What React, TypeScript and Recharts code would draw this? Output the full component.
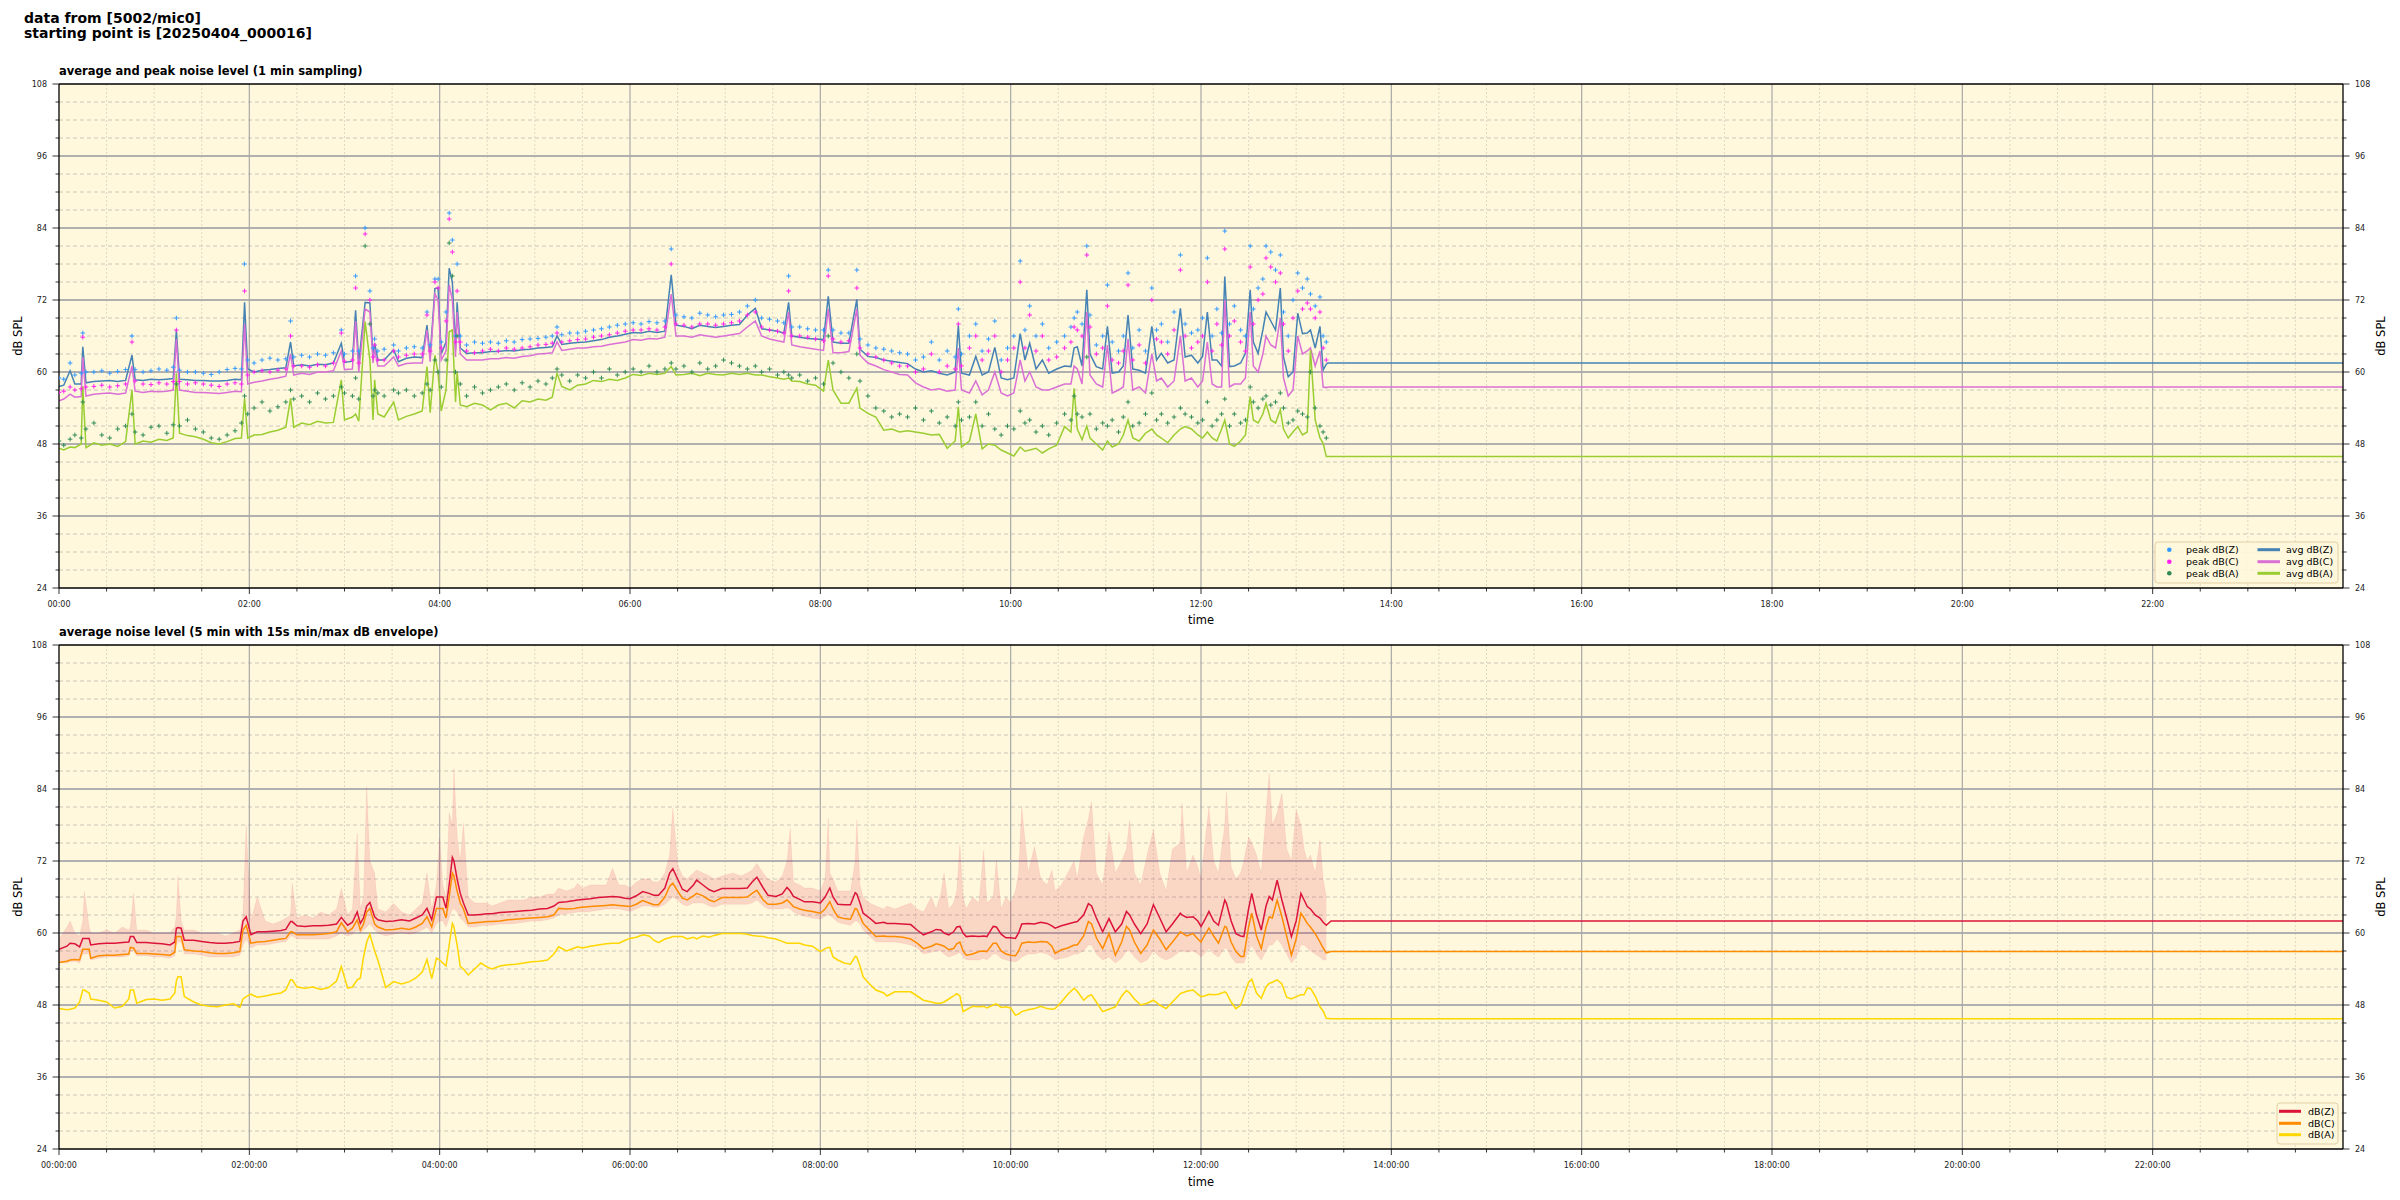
import React from 'react';
import { ComposedChart, Line, Scatter, Area, XAxis, YAxis, CartesianGrid } from 'recharts';

const FONT = '"DejaVu Sans", Verdana, sans-serif';

// ---------- top panel: 1-min sampling (time in minutes since 00:00) ----------
const topTime = [
  0,3,7,10,14,15,17,22,27,32,
  37,42,46,48,53,58,63,68,72,74,
  76,81,86,91,96,101,106,111,115,117,
  119,123,128,133,138,143,146,148,153,158,
  163,168,173,178,180,185,187,189,193,196,
  198,199,201,205,211,214,219,224,229,232,
  234,237,239,241,244,246,248,250,251,253,
  257,262,267,272,277,282,287,292,297,302,
  307,311,314,317,322,327,332,337,342,347,
  352,357,362,367,372,377,382,386,389,394,
  399,404,409,414,419,424,429,434,439,443,
  448,453,457,460,462,467,472,477,482,485,
  488,493,498,503,505,510,515,520,525,530,
  535,540,545,550,555,560,565,567,569,574,
  578,582,586,590,594,598,602,606,609,612,
  616,620,624,629,634,638,640,642,645,648,
  650,654,658,661,664,668,671,674,677,681,
  685,689,692,695,699,703,707,710,714,718,
  721,724,727,730,733,735,738,741,745,748,
  751,753,756,759,761,764,767,770,772,775,
  778,781,784,787,789,792,795,797,799,800,
  1440,
];
const avgZ = [
  57.6,57.8,60.2,58.0,58.0,64.2,58.2,58.4,58.5,58.6,
  58.4,58.6,62.8,58.7,58.6,58.8,58.7,58.8,58.9,67.0,
  58.8,58.7,58.6,58.6,58.5,58.5,58.6,58.8,58.7,71.6,
  60.5,60.0,60.3,60.4,60.6,60.7,65.0,61.0,61.2,61.0,
  61.3,61.2,61.5,64.8,61.6,61.8,70.3,61.5,71.6,71.5,
  62.5,64.8,62.0,62.0,63.7,61.7,62.3,62.5,62.4,67.8,
  62.6,73.9,74.0,63.0,65.0,77.3,75.0,63.7,71.6,64.0,
  63.1,63.2,63.2,63.4,63.4,63.6,63.5,63.7,63.8,64.0,
  64.1,64.2,66.0,64.6,64.8,64.9,65.0,65.2,65.4,65.8,
  66.0,66.3,66.6,66.5,66.8,66.6,66.8,76.2,67.8,67.6,
  67.2,67.8,67.6,67.4,67.6,67.8,67.9,69.5,70.6,67.2,
  67.0,66.8,66.5,71.6,66.0,65.8,65.6,65.5,65.4,72.6,
  65.0,64.8,64.8,72.1,63.8,62.6,62.4,62.0,61.8,61.6,
  61.4,60.5,60.0,60.2,59.8,59.5,60.0,67.8,59.8,59.5,
  62.6,59.5,60.0,64.1,59.0,58.7,59.0,66.4,62.0,64.8,
  60.5,62.0,59.8,60.5,61.0,60.9,64.0,64.2,61.0,73.7,
  63.0,60.9,60.5,67.6,59.8,60.0,61.0,69.5,60.5,60.3,
  59.8,67.6,62.0,63.1,61.5,62.0,70.6,62.5,62.8,61.5,
  62.6,70.0,62.0,62.0,61.0,75.9,60.9,61.0,61.5,63.1,
  73.7,65.0,63.1,67.0,70.0,68.5,67.0,74.0,62.5,59.2,
  60.0,69.8,66.4,66.5,67.0,64.0,67.6,60.3,61.3,61.5,
  61.5,
];
const avgC = [
  55.2,55.5,56.3,55.8,55.9,62.5,56.0,56.3,56.4,56.5,
  56.3,56.5,61.0,56.8,56.6,56.8,56.7,56.8,57.0,65.5,
  57.0,56.8,56.6,56.6,56.5,56.4,56.6,56.8,56.7,68.0,
  58.0,58.3,58.5,58.8,59.0,59.3,63.0,59.5,59.8,59.6,
  60.0,60.0,60.2,63.5,60.4,60.5,68.5,60.0,70.5,70.0,
  61.5,63.8,61.0,61.0,62.5,61.0,61.4,61.5,61.5,67.0,
  61.7,73.0,72.0,62.0,63.5,74.5,72.0,62.5,70.0,63.0,
  62.0,62.0,62.0,62.2,62.2,62.4,62.3,62.6,62.7,63.0,
  63.1,63.2,65.0,63.6,63.8,64.0,64.0,64.2,64.3,64.6,
  64.8,65.0,65.4,65.3,65.6,65.5,65.8,73.0,66.0,66.0,
  65.8,66.2,66.0,65.8,66.0,66.2,66.4,67.5,68.5,66.0,
  65.5,65.2,65.0,70.0,64.5,64.2,64.0,63.8,63.6,70.5,
  63.2,63.2,63.4,70.5,62.8,61.5,61.0,60.4,60.0,59.6,
  59.5,58.2,57.5,57.0,57.2,56.8,57.0,64.0,57.0,56.5,
  58.5,56.2,57.0,60.0,56.5,56.0,56.5,62.0,58.5,60.0,
  57.5,57.0,57.0,57.5,58.0,58.0,61.0,60.5,58.0,70.0,
  59.5,58.0,57.5,64.5,56.5,57.0,57.5,65.5,57.0,57.5,
  56.5,63.0,58.5,59.0,57.5,58.5,66.0,58.5,59.0,57.5,
  58.5,65.0,58.0,57.5,57.5,72.0,57.5,58.0,58.0,59.0,
  70.0,61.0,60.0,63.0,66.0,64.5,64.0,69.0,59.0,56.0,
  57.0,66.0,63.0,63.5,64.0,61.0,63.5,57.5,57.4,57.5,
  57.5,
];
const avgA = [
  47.3,47.0,47.5,47.4,48.0,57.6,47.4,48.2,47.8,48.0,
  47.6,48.4,57.0,48.0,48.5,48.3,48.8,48.6,49.0,59.8,
  49.8,49.4,49.2,48.8,48.2,48.0,48.4,48.9,49.0,55.6,
  49.0,49.5,49.6,50.0,50.3,50.8,55.6,50.8,51.5,51.2,
  51.8,51.5,51.6,58.7,52.0,52.5,53.0,51.8,68.4,62.0,
  52.0,58.7,53.0,52.5,55.0,52.0,52.6,53.0,53.5,60.9,
  53.2,62.8,59.8,53.5,57.0,66.7,67.0,55.0,60.0,54.5,
  54.2,54.8,54.5,53.7,54.5,54.8,54.0,55.2,55.0,55.5,
  55.3,55.8,59.8,57.6,57.0,57.8,58.0,58.6,58.4,58.8,
  58.6,59.0,59.6,59.4,59.8,59.6,59.8,60.9,59.5,59.6,
  59.8,59.4,59.8,59.6,59.5,59.8,59.6,59.8,59.5,59.5,
  59.2,59.0,58.8,59.0,58.5,58.4,58.0,57.8,56.8,62.0,
  57.0,54.8,54.8,57.3,54.0,53.1,52.5,50.3,50.5,50.0,
  50.2,50.0,49.8,49.5,49.6,47.3,48.5,54.2,47.5,48.5,
  53.0,47.2,48.0,47.8,47.0,46.5,46.0,47.5,46.8,47.0,
  47.3,46.5,47.2,47.8,50.9,50.0,57.3,50.5,48.7,51.0,
  49.0,48.0,47.0,48.5,47.5,48.0,49.5,52.0,49.0,48.5,
  49.8,50.5,49.5,49.0,48.2,49.5,50.5,50.9,50.5,49.5,
  49.0,50.0,49.0,48.5,50.5,52.0,48.0,47.6,48.5,49.5,
  55.9,52.0,51.5,53.0,54.8,52.0,51.5,53.7,50.5,49.0,
  50.0,50.9,49.5,50.0,63.7,52.0,49.0,48.1,45.9,45.9,
  45.9,
];
const peakZ = [
  59.0,58.8,61.5,59.5,59.8,66.5,60.0,60.0,60.2,59.8,
  60.1,60.4,66.0,60.4,60.0,60.2,60.5,60.3,60.8,69.0,
  60.3,60.0,60.0,59.8,59.6,60.0,60.4,60.6,60.5,78.0,
  62.0,61.5,62.0,62.3,62.0,62.2,68.5,62.5,62.8,62.5,
  63.0,62.8,63.2,67.0,63.0,63.5,76.0,63.5,84.0,73.5,
  64.0,65.5,63.5,63.8,64.5,63.5,64.0,64.2,64.0,70.0,
  64.5,75.5,75.5,65.0,70.0,86.5,82.0,66.0,78.0,66.0,
  64.5,65.0,64.8,65.0,64.8,65.2,65.0,65.4,65.5,65.6,
  65.8,66.0,67.5,66.2,66.5,66.5,66.8,67.0,67.2,67.5,
  67.8,68.0,68.2,68.0,68.4,68.2,68.5,80.5,69.5,69.2,
  69.0,69.8,69.5,69.2,69.5,69.6,70.0,71.0,72.0,69.0,
  68.8,68.5,68.2,76.0,67.5,67.5,67.2,67.0,67.0,77.0,
  67.0,66.5,66.5,77.0,65.5,64.5,64.0,63.8,63.5,63.2,
  63.0,62.0,62.5,65.0,62.0,63.5,62.5,70.5,63.0,66.0,
  68.0,63.5,65.5,68.5,62.0,64.0,66.0,78.5,67.0,71.0,
  66.0,68.0,64.0,65.0,66.0,67.5,69.0,70.0,68.0,81.0,
  69.5,64.5,66.0,74.5,65.0,63.5,66.0,76.5,64.0,67.0,
  63.5,74.0,67.0,68.0,65.0,70.0,79.5,68.0,66.5,67.0,
  69.0,79.0,66.0,70.5,66.5,83.5,68.0,71.0,67.0,66.0,
  81.0,70.5,74.0,75.5,81.0,80.0,77.0,79.5,70.0,66.0,
  72.0,76.5,74.0,75.5,73.0,71.0,72.5,66.0,65.0,null,
  null,
];
const peakC = [
  56.6,56.8,57.5,57.0,57.2,65.8,57.5,57.6,57.8,57.5,
  57.7,58.0,65.0,58.5,58.0,57.9,58.2,58.0,58.4,67.0,
  58.4,58.0,58.2,58.0,57.8,57.6,58.0,58.2,58.0,73.5,
  59.5,60.0,60.2,60.0,60.3,60.5,66.0,61.0,61.0,60.8,
  61.2,61.0,61.5,66.5,61.8,62.0,74.0,61.5,83.0,72.0,
  62.5,64.5,62.0,62.0,63.5,62.5,62.8,63.0,63.0,69.5,
  63.5,75.0,74.0,64.0,68.5,85.5,80.0,65.0,73.5,65.0,
  63.5,63.2,63.5,63.8,63.5,64.0,63.8,64.0,64.2,64.5,
  64.6,64.8,66.5,65.0,65.2,65.4,65.5,65.8,66.0,66.2,
  66.5,66.8,67.0,67.0,67.2,67.0,67.5,78.0,68.0,67.8,
  67.5,68.0,68.0,67.8,68.0,68.2,68.5,69.5,70.0,67.5,
  67.0,66.8,66.5,73.5,66.0,66.0,65.8,65.5,65.2,76.0,
  65.5,65.0,65.2,74.0,64.0,63.0,62.5,62.0,61.5,61.0,
  61.0,60.0,60.5,63.0,60.0,61.0,60.5,68.0,61.0,64.0,
  66.0,62.0,63.5,66.0,60.0,62.0,64.0,75.0,64.0,69.5,
  63.5,66.0,62.0,62.5,64.0,65.0,67.5,67.0,66.0,79.5,
  67.5,63.0,64.0,71.0,62.0,61.5,63.5,74.5,62.0,64.5,
  61.5,72.0,65.5,65.0,63.0,67.0,77.0,66.0,64.0,65.0,
  66.0,75.0,63.5,68.0,64.5,80.5,66.0,68.5,65.0,63.5,
  77.5,68.0,72.0,73.0,79.0,77.5,75.0,76.5,68.0,63.5,
  69.0,73.5,70.5,71.5,70.5,69.0,70.0,64.0,62.0,null,
  null,
];
const peakA = [
  48.5,47.8,48.8,49.5,49.0,55.0,50.5,51.5,49.5,49.0,
  50.5,51.0,53.0,50.0,49.5,50.8,51.0,49.8,51.2,58.0,
  51.0,52.0,50.5,50.0,49.0,48.8,49.5,50.2,51.5,56.0,
  53.0,54.0,55.0,53.5,54.2,55.0,57.0,55.5,56.0,55.0,
  56.5,55.5,56.0,57.5,56.5,56.0,59.0,55.5,81.0,68.0,
  56.0,57.0,56.5,56.0,57.0,56.5,57.0,56.0,56.5,58.0,
  57.0,62.0,60.0,57.5,62.0,81.5,76.0,60.0,66.0,58.0,
  56.0,57.5,56.5,57.0,57.5,58.0,57.0,58.2,57.5,58.5,
  58.0,59.0,60.5,59.5,58.5,59.5,59.0,60.0,59.0,60.5,
  59.5,60.0,60.5,60.0,61.0,60.0,60.5,61.5,60.5,61.0,
  60.0,61.5,60.5,61.0,62.0,61.5,61.0,60.5,61.0,60.0,
  60.5,59.5,60.0,59.5,59.0,59.5,58.5,59.0,58.0,66.0,
  61.5,60.0,59.0,63.0,58.5,56.0,54.0,53.5,52.5,53.0,
  52.5,54.0,52.0,53.5,51.5,52.5,51.0,55.0,52.0,52.5,
  55.0,51.0,53.0,50.5,49.5,51.0,50.5,53.5,51.5,52.0,
  50.0,51.0,49.5,51.5,53.0,52.0,56.0,53.0,52.5,62.5,
  53.0,50.5,51.5,51.0,52.0,50.0,52.5,55.0,51.0,51.5,
  53.0,56.5,52.0,53.0,51.5,52.5,54.0,53.0,52.5,51.5,
  52.0,55.0,51.0,52.0,53.0,55.5,51.0,53.0,51.5,52.0,
  57.5,55.0,54.0,55.5,56.0,54.5,55.0,56.5,54.0,51.5,
  52.0,53.5,53.0,52.5,60.0,54.0,51.0,50.0,49.0,null,
  null,
];

// ---------- bottom panel: 5-min average with 15s min/max envelope ----------
const botTime = [
  0,5,7,10,13,15,16,19,20,25,
  30,35,40,44,45,47,49,55,60,65,
  70,73,74,75,77,79,85,90,95,100,
  105,110,114,116,118,121,125,130,135,140,
  143,146,147,150,155,160,165,170,175,178,
  182,185,188,190,192,194,196,199,201,206,
  211,216,221,225,229,232,235,238,240,242,
  244,246,248,249,251,253,255,258,262,266,
  270,273,278,283,288,293,298,303,308,312,
  315,320,325,327,330,335,340,345,349,353,
  357,360,364,368,372,375,378,382,385,387,
  390,393,396,400,402,406,410,413,418,425,
  430,434,437,440,444,447,452,456,459,461,
  463,467,470,475,480,483,485,486,488,491,
  495,499,502,503,505,507,511,515,520,522,
  527,532,537,541,545,550,553,556,558,561,
  564,566,568,570,572,576,580,583,585,589,
  591,594,597,600,603,605,607,611,615,619,
  623,626,628,632,636,640,642,646,649,651,
  654,658,662,666,670,673,675,678,682,686,
  690,694,698,702,707,708,711,715,718,720,
  722,725,728,731,735,736,739,742,745,747,
  750,752,755,758,761,763,765,768,771,774,
  777,780,783,785,787,789,792,795,797,799,
  802,1440,
];
const lvlZ = [
  57.3,57.8,58.3,58.2,57.7,59.1,59.1,59.1,58.0,58.2,
  58.3,58.3,58.4,58.5,59.4,59.4,58.4,58.4,58.3,58.2,
  58.0,58.5,60.8,60.9,60.8,58.8,58.8,58.6,58.4,58.3,
  58.3,58.4,58.6,62.0,62.7,59.7,60.2,60.2,60.3,60.4,
  60.6,61.9,61.9,61.2,61.1,61.2,61.2,61.3,61.5,62.6,
  61.3,61.8,63.5,61.6,62.5,64.5,65.1,62.7,62.2,61.9,
  62.0,62.2,62.0,62.5,63.0,64.1,62.2,66.0,66.0,66.0,
  64.1,68.0,72.6,72.0,69.0,66.6,65.0,63.0,63.0,63.1,
  63.2,63.2,63.4,63.5,63.6,63.7,63.8,64.0,64.1,64.5,
  65.1,65.2,65.4,65.5,65.6,65.7,65.9,66.0,66.1,66.0,
  65.8,65.7,66.2,66.9,66.6,66.3,66.3,67.5,70.0,70.7,
  69.0,67.3,66.9,68.0,68.8,68.0,67.2,66.9,67.4,67.4,
  67.4,67.5,68.5,69.3,67.5,66.3,66.1,66.5,67.6,67.0,
  66.1,65.6,65.2,65.2,65.0,66.0,67.0,67.5,66.0,64.8,
  64.7,64.7,66.7,66.5,65.0,63.3,62.5,61.6,61.8,61.6,
  61.6,61.5,61.4,60.5,59.7,60.2,60.6,60.5,60.0,59.7,
  60.2,61.0,61.1,60.0,59.4,59.5,59.4,59.5,59.4,61.1,
  61.0,59.8,59.2,59.2,59.1,60.0,61.5,61.6,61.5,61.8,
  61.6,61.2,60.8,61.2,61.5,61.8,61.9,63.0,64.9,64.5,
  62.5,60.2,62.4,60.2,61.5,63.6,63.0,61.5,59.9,61.5,
  64.7,62.5,60.2,61.5,63.3,63.0,62.6,62.7,62.0,61.1,
  62.0,63.6,62.0,61.3,65.5,65.0,62.0,59.9,59.5,59.4,
  64.0,66.6,63.0,60.5,64.5,66.1,65.5,68.8,65.5,62.5,
  59.4,62.0,66.6,65.5,64.4,64.0,63.0,62.5,61.8,61.3,
  62.0,62.0,
];
const lvlC = [
  55.1,55.3,55.5,55.6,55.5,57.3,57.3,57.3,55.8,56.2,
  56.3,56.3,56.4,56.5,57.6,57.5,56.6,56.6,56.5,56.4,
  56.3,56.8,59.4,59.4,59.4,57.2,57.0,56.9,56.7,56.6,
  56.6,56.7,56.9,60.5,61.3,58.3,58.5,58.6,58.8,59.0,
  59.1,60.2,60.2,59.7,59.7,59.7,59.8,59.9,60.2,61.7,
  60.2,60.8,62.2,60.5,61.5,63.5,64.1,61.5,61.0,60.5,
  60.6,60.8,60.6,61.0,61.6,62.7,61.0,64.1,64.1,64.1,
  62.5,66.0,70.0,69.5,67.0,65.0,64.0,61.6,61.7,61.8,
  61.9,61.9,62.0,62.2,62.3,62.4,62.5,62.6,62.7,63.0,
  64.1,64.0,64.1,64.2,64.3,64.4,64.5,64.6,64.7,64.6,
  64.5,64.4,64.8,65.4,65.0,64.7,64.7,66.0,67.8,68.3,
  67.0,65.8,65.5,66.2,66.6,66.2,65.5,65.2,65.9,65.9,
  65.9,66.0,66.6,67.1,65.5,64.8,64.8,65.0,65.5,65.0,
  64.4,64.0,63.8,63.6,63.3,64.0,64.8,65.2,64.0,62.7,
  62.4,62.3,64.1,64.0,62.8,61.6,60.5,59.4,59.5,59.4,
  59.4,59.3,59.0,58.3,57.4,57.8,58.2,58.0,57.8,57.2,
  57.4,58.2,58.5,57.0,56.3,56.5,56.9,57.0,56.9,58.3,
  58.3,57.0,56.5,56.3,56.2,57.0,58.3,58.5,58.4,58.6,
  58.5,57.8,56.6,57.2,57.5,58.0,58.0,59.5,61.9,61.5,
  59.2,57.4,59.9,56.3,58.5,61.1,60.5,58.5,56.6,58.0,
  60.5,59.0,57.2,58.5,60.2,60.0,59.5,59.9,59.0,58.5,
  59.5,60.8,59.5,58.3,61.1,61.0,58.5,56.9,56.1,56.1,
  61.0,63.3,59.5,57.4,61.0,62.7,62.5,65.5,62.7,59.5,
  56.3,59.0,63.3,62.5,61.6,61.0,59.9,58.5,57.5,56.7,
  56.9,56.9,
];
const lvlA = [
  47.4,47.2,47.3,47.5,48.5,50.5,50.5,50.0,49.0,48.8,
  48.5,47.5,47.8,49.0,50.5,50.5,48.3,48.9,49.0,48.8,
  49.0,50.0,52.0,52.7,52.7,49.4,48.5,48.0,47.8,47.7,
  48.0,48.2,47.6,49.0,49.4,49.8,49.3,49.5,49.8,50.0,
  50.5,52.2,52.2,51.0,50.8,51.0,50.6,50.9,52.0,54.4,
  50.8,51.0,52.2,52.5,56.0,58.5,59.8,57.0,55.5,50.9,
  51.9,51.5,51.9,52.5,53.5,55.6,52.4,55.8,55.5,55.0,
  54.5,58.0,61.6,61.0,58.0,54.4,54.0,53.0,54.0,55.0,
  54.3,54.0,54.5,54.7,54.8,55.0,55.2,55.3,55.5,56.5,
  57.7,57.0,57.5,57.7,57.5,57.8,58.0,58.2,58.3,58.3,
  58.8,59.1,59.3,59.7,59.5,58.8,58.4,59.0,59.2,59.4,
  59.4,59.4,59.0,59.3,59.0,59.5,59.3,59.6,59.9,59.9,
  59.9,59.8,59.6,59.5,59.4,59.2,59.0,58.6,58.3,58.3,
  58.3,58.3,58.0,57.8,56.9,57.4,57.6,57.6,56.0,55.5,
  55.0,54.8,56.1,56.0,54.5,52.7,51.5,50.5,50.0,49.5,
  50.2,50.2,50.2,49.5,48.8,48.5,48.3,48.3,48.5,49.0,
  49.5,49.9,49.5,46.9,47.2,47.8,47.7,47.8,47.5,48.0,
  48.2,47.6,47.7,47.5,46.3,46.5,46.9,47.2,47.4,47.8,
  47.4,47.3,47.4,48.5,49.8,50.8,50.3,48.8,49.5,49.7,
  48.5,46.9,47.3,47.7,49.5,50.4,50.0,49.0,48.0,48.3,
  48.8,48.0,47.4,48.5,49.9,50.0,50.3,50.5,49.8,49.4,
  49.5,49.8,49.7,49.8,50.2,50.0,48.5,47.4,48.0,49.5,
  51.8,52.3,50.0,49.1,51.0,51.6,51.8,52.2,51.5,49.3,
  49.0,49.4,49.7,49.7,50.8,50.8,49.5,47.7,47.0,45.8,
  45.7,45.7,
];
const envLow = [
  55.0,55.0,55.2,55.3,55.0,56.5,56.5,56.5,55.5,55.8,
  56.0,56.0,56.0,56.2,57.0,57.0,56.2,56.2,56.0,56.0,
  55.8,56.2,58.0,58.5,58.5,56.5,56.5,56.3,56.0,56.0,
  56.0,56.0,56.3,58.0,59.0,57.5,58.0,58.0,58.2,58.5,
  58.5,59.5,59.5,59.0,59.0,59.0,59.0,59.0,59.5,60.0,
  59.5,59.8,60.5,60.0,60.5,61.0,61.5,60.5,60.0,59.5,
  59.8,60.0,59.8,60.0,60.5,61.0,60.0,61.5,62.0,62.0,
  61.0,62.5,64.0,64.0,63.5,62.5,62.0,61.0,61.0,61.2,
  61.3,61.3,61.5,61.5,61.6,61.8,62.0,62.0,62.2,62.5,
  63.0,63.2,63.4,63.5,63.5,63.6,63.8,64.0,64.0,64.0,
  63.8,63.6,64.0,64.5,64.5,64.3,64.3,64.8,65.5,66.0,
  65.5,64.8,64.5,65.0,65.0,65.0,64.5,64.3,64.8,64.8,
  64.8,64.8,65.0,65.5,64.5,64.0,64.0,64.0,64.2,64.0,
  63.5,63.0,62.8,62.5,62.3,62.8,63.0,63.0,62.5,61.8,
  61.5,61.3,62.0,62.0,61.5,60.5,59.5,58.5,58.5,58.5,
  58.5,58.3,58.0,57.5,56.5,56.8,57.0,57.0,56.5,56.0,
  56.3,56.5,56.8,56.0,55.5,55.5,55.5,55.8,55.5,56.5,
  56.5,55.8,55.5,55.3,55.2,55.5,56.0,56.5,56.5,56.8,
  56.5,56.0,55.5,55.8,56.0,56.5,56.5,57.0,58.0,58.0,
  56.5,55.5,56.0,55.0,55.8,57.0,57.0,56.0,55.0,55.5,
  57.0,56.0,55.5,56.0,57.0,57.0,56.8,57.0,56.5,56.0,
  56.5,57.5,56.5,56.0,57.5,57.5,56.0,55.0,55.0,55.0,
  57.0,58.0,56.5,55.5,57.0,58.0,58.0,59.0,58.0,56.5,
  55.0,56.0,58.0,58.0,57.5,57.0,56.5,56.0,55.5,55.5,
  null,null,
];
const envHigh = [
  59.0,61.0,62.0,60.0,59.5,62.0,66.9,61.0,60.0,60.0,
  60.5,60.0,61.0,60.5,61.0,66.6,60.5,60.5,60.0,60.0,
  60.0,61.0,63.0,69.5,62.0,60.5,60.5,60.0,60.0,60.0,
  59.5,60.0,60.5,63.0,78.0,62.0,66.0,62.0,61.5,62.0,
  62.5,63.0,68.3,62.5,63.0,62.5,63.5,63.0,64.0,67.4,
  63.0,64.0,76.6,64.0,66.0,84.4,72.0,70.0,64.0,63.5,
  64.9,63.5,63.0,64.0,65.0,70.0,64.0,68.0,75.8,68.0,
  66.0,80.0,78.0,87.4,76.0,72.0,78.3,66.0,65.0,65.0,
  65.0,64.5,65.0,65.5,65.5,65.5,66.0,66.0,66.5,66.5,
  67.5,67.0,67.5,68.3,67.5,68.0,68.0,68.0,70.8,68.0,
  68.0,67.5,68.5,69.0,69.0,68.5,68.5,70.0,73.0,80.8,
  71.5,69.5,69.0,70.0,70.5,70.0,69.5,69.0,69.5,70.0,
  69.5,70.0,70.5,71.6,70.0,69.0,68.5,69.5,72.0,77.4,
  68.5,68.0,67.5,67.5,67.0,69.0,79.1,70.0,69.0,67.0,
  67.0,67.0,72.0,78.8,68.0,66.0,65.0,64.5,64.0,64.5,
  64.0,64.5,65.0,64.0,63.5,66.0,64.0,66.5,70.0,64.0,
  65.0,67.0,74.7,66.0,64.0,66.0,65.0,73.8,65.0,66.0,
  72.2,64.0,66.0,65.0,67.0,70.0,81.0,70.0,74.4,69.0,
  68.0,70.5,67.0,68.0,70.0,72.0,69.0,76.0,79.0,81.9,
  70.0,68.0,76.9,70.0,72.0,74.0,78.8,70.0,68.0,73.0,
  77.2,70.0,67.0,74.0,75.0,81.6,70.0,73.0,71.0,69.0,
  74.0,81.0,72.0,70.0,78.0,83.6,71.0,69.0,70.0,72.0,
  76.0,75.0,73.0,70.0,80.0,86.6,78.0,80.0,83.3,74.0,
  72.0,80.5,78.0,74.0,72.0,73.0,70.0,75.5,69.0,66.0,
  null,null,
];

// ---------- axes ----------
const xTicks = Array.from({ length: 48 }, (_, i) => i * 30); // 00:00 .. 23:30
const xMinor = xTicks.filter((t) => t > 0 && t % 120 !== 0);
const xMajor = xTicks.filter((t) => t > 0 && t % 120 === 0);
const yTicks = Array.from({ length: 29 }, (_, i) => 24 + i * 3); // 24 .. 108
const yMinor = yTicks.filter((v) => v > 24 && v < 108 && v % 12 !== 0);
const yMajor = yTicks.filter((v) => v > 24 && v < 108 && v % 12 === 0);

const C = {
  bg: '#fff8dc',
  pZ: '#3399ff', pC: '#ff22ee', pA: '#2e8b57',
  aZ: '#4682b4', aC: '#da70d6', aA: '#9acd32',
  bZ: '#dc143c', bC: '#ff8c00', bA: '#ffd700',
};

const topRows = topTime.map((t, i) => ({
  t, z: avgZ[i], c: avgC[i], a: avgA[i], pz: peakZ[i], pc: peakC[i], pa: peakA[i],
}));
const peakRows = topRows.filter((r) => r.pz != null);
const botRows = botTime.map((t, i) => ({
  t, z: lvlZ[i], c: lvlC[i], a: lvlA[i],
  env: envLow[i] != null && envHigh[i] != null ? [envLow[i], envHigh[i]] : null,
}));

const pad = (n: number) => (n < 10 ? '0' + n : '' + n);

const makeXTick = (withSec: boolean) => (props: any) => {
  const { x, y, payload } = props;
  const v = payload.value as number;
  const major = v % 120 === 0;
  const lbl = pad(Math.floor(v / 60)) + ':00' + (withSec ? ':00' : '');
  return (
    <g>
      <line x1={x} x2={x} y1={y} y2={y + (major ? 6 : 3.5)} stroke="#000" strokeWidth={0.8} />
      {major && (
        <text x={x} y={y + 16} dy="0.35em" textAnchor="middle" fontSize={8} fill="#222" fontFamily={FONT}>
          {lbl}
        </text>
      )}
    </g>
  );
};

const makeYTick = (side: 'left' | 'right') => (props: any) => {
  const { x, y, payload } = props;
  const v = payload.value as number;
  const major = v % 12 === 0;
  const s = side === 'left' ? -1 : 1;
  return (
    <g>
      <line x1={x} x2={x + s * (major ? 6.5 : 3.5)} y1={y} y2={y} stroke="#000" strokeWidth={0.8} />
      {major && (
        <text x={x + s * 12} y={y} dy="0.35em" textAnchor={side === 'left' ? 'end' : 'start'} fontSize={8} fill="#222" fontFamily={FONT}>
          {v}
        </text>
      )}
    </g>
  );
};

const plus = (color: string) => (props: any) => {
  const { cx, cy } = props;
  if (cx == null || cy == null || isNaN(cx) || isNaN(cy)) return <g />;
  return <path d={`M${cx - 2.3},${cy}h4.6M${cx},${cy - 2.3}v4.6`} stroke={color} strokeWidth={1} fill="none" />;
};

const Frame = (withSec: boolean) => [
  <CartesianGrid key="bg" fill={C.bg} horizontal={false} vertical={false} />,
  <CartesianGrid key="hmin" horizontalValues={yMinor} vertical={false} stroke="#bdbab0" strokeDasharray="4 3" strokeWidth={0.8} />,
  <CartesianGrid key="vmin" verticalValues={xMinor} horizontal={false} stroke="#d6d0bf" strokeDasharray="2 2" strokeWidth={0.8} />,
  <CartesianGrid key="hmaj" horizontalValues={yMajor} vertical={false} stroke="#b0b0b0" strokeWidth={1.8} />,
  <CartesianGrid key="vmaj" verticalValues={xMajor} horizontal={false} stroke="#a8a8a8" strokeWidth={1.2} />,
  <XAxis key="xb" dataKey="t" type="number" domain={[0, 1440]} ticks={xTicks} interval={0} height={1}
    tickSize={0} tickMargin={0} tickLine={false} axisLine={{ stroke: '#000', strokeWidth: 1.3 }}
    tick={makeXTick(withSec)} allowDataOverflow />,
  <XAxis key="xt" xAxisId="top" orientation="top" dataKey="t" type="number" domain={[0, 1440]} height={1}
    tick={false} tickLine={false} axisLine={{ stroke: '#000', strokeWidth: 1.3 }} allowDataOverflow />,
  <YAxis key="yl" type="number" domain={[24, 108]} ticks={yTicks} interval={0} width={1}
    tickSize={0} tickMargin={0} tickLine={false} axisLine={{ stroke: '#000', strokeWidth: 1.3 }}
    tick={makeYTick('left')} allowDataOverflow />,
  <YAxis key="yr" yAxisId="right" orientation="right" type="number" domain={[24, 108]} ticks={yTicks} interval={0} width={1}
    tickSize={0} tickMargin={0} tickLine={false} axisLine={{ stroke: '#000', strokeWidth: 1.3 }}
    tick={makeYTick('right')} allowDataOverflow />,
];

const TopChart = () => (
  <ComposedChart width={2400} height={636} data={topRows} margin={{ top: 83, right: 56, bottom: 47, left: 58 }}>
    {Frame(false)}
    <Scatter name="peak dB(Z)" data={peakRows} dataKey="pz" shape={plus(C.pZ)} isAnimationActive={false} />
    <Scatter name="peak dB(C)" data={peakRows} dataKey="pc" shape={plus(C.pC)} isAnimationActive={false} />
    <Scatter name="peak dB(A)" data={peakRows} dataKey="pa" shape={plus(C.pA)} isAnimationActive={false} />
    <Line name="avg dB(Z)" dataKey="z" type="linear" stroke={C.aZ} strokeWidth={1.5} dot={false} isAnimationActive={false} />
    <Line name="avg dB(C)" dataKey="c" type="linear" stroke={C.aC} strokeWidth={1.5} dot={false} isAnimationActive={false} />
    <Line name="avg dB(A)" dataKey="a" type="linear" stroke={C.aA} strokeWidth={1.5} dot={false} isAnimationActive={false} />
  </ComposedChart>
);

const BottomChart = () => (
  <ComposedChart width={2400} height={564} data={botRows} margin={{ top: 8, right: 56, bottom: 50, left: 58 }}>
    {Frame(true)}
    <Area dataKey="env" type="linear" fill={C.bZ} fillOpacity={0.15} stroke={C.bZ} strokeOpacity={0.1} strokeWidth={0.6} isAnimationActive={false} />
    <Line name="dB(Z)" dataKey="z" type="linear" stroke={C.bZ} strokeWidth={1.5} dot={false} isAnimationActive={false} />
    <Line name="dB(C)" dataKey="c" type="linear" stroke={C.bC} strokeWidth={1.5} dot={false} isAnimationActive={false} />
    <Line name="dB(A)" dataKey="a" type="linear" stroke={C.bA} strokeWidth={1.5} dot={false} isAnimationActive={false} />
  </ComposedChart>
);

const T = (p: any) => <text fontFamily={FONT} fill="#000" {...p} />;

const Overlay = () => (
  <svg width={2400} height={1200} style={{ position: 'absolute', left: 0, top: 0, pointerEvents: 'none' }}>
    <T x={24} y={23} fontSize={14} fontWeight="bold">data from [5002/mic0]</T>
    <T x={24} y={38} fontSize={14} fontWeight="bold">starting point is [20250404_000016]</T>
    <T x={59} y={75} fontSize={11.5} fontWeight="bold">average and peak noise level (1 min sampling)</T>
    <T x={59} y={636} fontSize={11.5} fontWeight="bold">average noise level (5 min with 15s min/max dB envelope)</T>
    <T x={17.5} y={336} fontSize={11.5} textAnchor="middle" dominantBaseline="central" transform="rotate(-90 17.5 336)">dB SPL</T>
    <T x={2381} y={336} fontSize={11.5} textAnchor="middle" dominantBaseline="central" transform="rotate(-90 2381 336)">dB SPL</T>
    <T x={17.5} y={897} fontSize={11.5} textAnchor="middle" dominantBaseline="central" transform="rotate(-90 17.5 897)">dB SPL</T>
    <T x={2381} y={897} fontSize={11.5} textAnchor="middle" dominantBaseline="central" transform="rotate(-90 2381 897)">dB SPL</T>
    <T x={1201} y={620} fontSize={11.5} textAnchor="middle" dominantBaseline="central">time</T>
    <T x={1201} y={1181.5} fontSize={11.5} textAnchor="middle" dominantBaseline="central">time</T>

    {/* top legend */}
    <rect x={2155} y={542} width={183} height={41} rx={3} fill={C.bg} fillOpacity={0.85} stroke="#e3cfa3" strokeWidth={1} />
    {[
      { c: C.pZ, l: 'peak dB(Z)', y: 549.7 },
      { c: C.pC, l: 'peak dB(C)', y: 561.7 },
      { c: C.pA, l: 'peak dB(A)', y: 573.3 },
    ].map((d) => (
      <g key={d.l}>
        <circle cx={2169.3} cy={d.y} r={2.3} fill={d.c} />
        <T x={2186} y={d.y} fontSize={9.5} dominantBaseline="central">{d.l}</T>
      </g>
    ))}
    {[
      { c: C.aZ, l: 'avg dB(Z)', y: 549.7 },
      { c: C.aC, l: 'avg dB(C)', y: 561.7 },
      { c: C.aA, l: 'avg dB(A)', y: 573.3 },
    ].map((d) => (
      <g key={d.l}>
        <line x1={2257.5} x2={2280} y1={d.y} y2={d.y} stroke={d.c} strokeWidth={3} />
        <T x={2286} y={d.y} fontSize={9.5} dominantBaseline="central">{d.l}</T>
      </g>
    ))}

    {/* bottom legend */}
    <rect x={2277} y={1103} width={61} height={41} rx={3} fill={C.bg} fillOpacity={0.85} stroke="#e3cfa3" strokeWidth={1} />
    {[
      { c: C.bZ, l: 'dB(Z)', y: 1111.3 },
      { c: C.bC, l: 'dB(C)', y: 1123.3 },
      { c: C.bA, l: 'dB(A)', y: 1134.7 },
    ].map((d) => (
      <g key={d.l}>
        <line x1={2279} x2={2301} y1={d.y} y2={d.y} stroke={d.c} strokeWidth={3} />
        <T x={2308} y={d.y} fontSize={9.5} dominantBaseline="central">{d.l}</T>
      </g>
    ))}
  </svg>
);

export default function App() {
  return (
    <div style={{ position: 'absolute', left: 0, top: 0, width: 2400, height: 1200, background: '#fff', fontFamily: FONT }}>
      <div style={{ position: 'absolute', left: 0, top: 0 }}>
        <TopChart />
      </div>
      <div style={{ position: 'absolute', left: 0, top: 636 }}>
        <BottomChart />
      </div>
      <Overlay />
    </div>
  );
}
